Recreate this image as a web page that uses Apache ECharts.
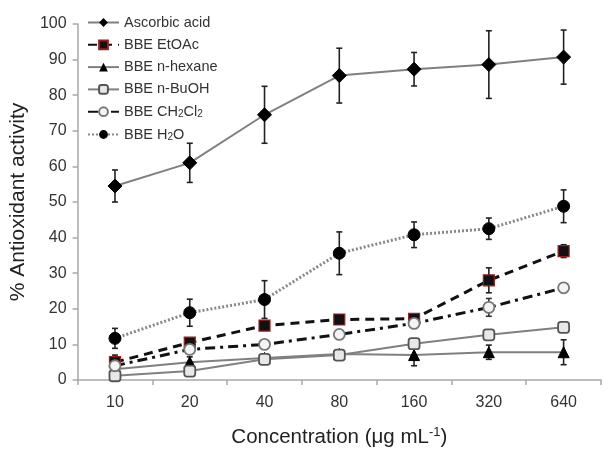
<!DOCTYPE html>
<html><head><meta charset="utf-8">
<script src="https://cdn.jsdelivr.net/npm/echarts@6/dist/echarts.min.js"></script>
<style>html,body{margin:0;padding:0;background:#fff}#c{width:608px;height:453px}</style>
</head><body><div id="c"></div>
<script>
var categories = ['10','20','40','80','160','320','640'];
var ascorbic = [54.5, 61, 74.5, 85.5, 87.3, 88.6, 90.7];
var ascorbicErr = [4.5, 5.5, 8, 7.7, 4.7, 9.5, 7.6];
var etoac = [5, 10.5, 15.3, 17, 17.2, 28, 36.2];
var etoacErr = [2, 1, 1, 1, 1, 3.5, 1.8];
var hexane = [3, 5, 6.2, 7.3, 7, 7.8, 7.8];
var hexaneErr = [1, 1.5, 1, 1, 3, 2, 3.5];
var buoh = [1.2, 2.5, 5.8, 7, 10.2, 12.7, 14.8];
var buohErr = [0.5, 0.8, 0.8, 0.8, 1, 1, 1];
var ch2cl2 = [4, 8.6, 10, 12.8, 15.9, 20.4, 25.9];
var ch2cl2Err = [1, 1, 1, 1, 1, 2.5, 1.3];
var h2o = [11.7, 18.9, 22.6, 35.6, 40.8, 42.5, 48.8];
var h2oErr = [2.8, 3.8, 5.3, 6, 3.6, 3, 4.6];
var yTicks = [0,10,20,30,40,50,60,70,80,90,100];

function errData(vals, errs){
  return vals.map(function(v,i){ return [i, v-errs[i], v+errs[i]]; });
}
function errSeries(vals, errs, color){
  return {
    type:'custom', silent:true, z:1,
    data: errData(vals, errs),
    renderItem: function(params, api){
      var lo = api.coord([api.value(0), api.value(1)]);
      var hi = api.coord([api.value(0), api.value(2)]);
      var w = 3;
      var st = {stroke: color, lineWidth: 1.6};
      return {type:'group', children:[
        {type:'line', shape:{x1:lo[0],y1:lo[1],x2:hi[0],y2:hi[1]}, style:st},
        {type:'line', shape:{x1:lo[0]-w,y1:lo[1],x2:lo[0]+w,y2:lo[1]}, style:st},
        {type:'line', shape:{x1:hi[0]-w,y1:hi[1],x2:hi[0]+w,y2:hi[1]}, style:st}
      ]};
    }
  };
}

var chart = echarts.init(document.getElementById('c'));
var font = 'Liberation Sans, Arial, sans-serif';
chart.setOption({
  animation:false,
  textStyle:{fontFamily:font},
  grid:{left:76, right:7, top:24, bottom:70},
  legend:{
    orient:'vertical', left:82, top:10, itemWidth:31, itemHeight:11, itemGap:7.3,
    textStyle:{fontSize:14.5, color:'#333', fontFamily:font,
      rich:{sub:{fontSize:10, verticalAlign:'bottom', padding:[6,0,0,0], color:'#333'}}},
    formatter:function(n){
      if(n==='BBE CH2Cl2') return 'BBE CH{sub|2}Cl{sub|2}';
      if(n==='BBE H2O') return 'BBE H{sub|2}O';
      return n;
    },
    data:['Ascorbic acid','BBE EtOAc','BBE n-hexane','BBE n-BuOH','BBE CH2Cl2','BBE H2O']
  },
  xAxis:{
    type:'category', data:categories, boundaryGap:true,
    axisLine:{lineStyle:{color:'#a8a8a8', width:1.5}},
    axisTick:{show:true, length:5, lineStyle:{color:'#a8a8a8', width:1.5}},
    axisLabel:{fontSize:16, color:'#333', margin:15, fontFamily:font},
    name:'Concentration (\u03bcg mL{sup|-1})', nameLocation:'middle', nameGap:46,
    nameTextStyle:{fontSize:20.5, color:'#222', fontFamily:font,
      rich:{sup:{fontSize:13, verticalAlign:'top', padding:[0,0,10,0], color:'#222'}}}
  },
  yAxis:{
    type:'value', min:0, max:100, interval:10,
    axisLine:{show:true, lineStyle:{color:'#a8a8a8', width:1.5}},
    axisTick:{show:true, length:5, lineStyle:{color:'#a8a8a8', width:1.5}},
    splitLine:{show:false},
    axisLabel:{fontSize:16, color:'#333', margin:11, fontFamily:font},
    name:'% Antioxidant activity', nameLocation:'middle', nameGap:47,
    nameTextStyle:{fontSize:21, color:'#222', fontFamily:font}
  },
  series:[
    errSeries(ascorbic, ascorbicErr, '#222'),
    errSeries(etoac, etoacErr, '#222'),
    errSeries(hexane, hexaneErr, '#222'),
    errSeries(buoh, buohErr, '#333'),
    errSeries(ch2cl2, ch2cl2Err, '#333'),
    errSeries(h2o, h2oErr, '#222'),
    {name:'Ascorbic acid', type:'line', data:ascorbic, z:3,
      symbol:'diamond', symbolSize:14,
      lineStyle:{color:'#808080', width:2},
      itemStyle:{color:'#000', borderColor:'#000'}},
    {name:'BBE EtOAc', type:'line', data:etoac, z:3,
      symbol:'rect', symbolSize:11,
      lineStyle:{color:'#111', width:3, type:[9,6]},
      itemStyle:{color:'#111', borderColor:'#9a2020', borderWidth:1.2}},
    {name:'BBE n-hexane', type:'line', data:hexane, z:3,
      symbol:'triangle', symbolSize:11,
      lineStyle:{color:'#808080', width:2},
      itemStyle:{color:'#000', borderColor:'#000'}},
    {name:'BBE n-BuOH', type:'line', data:buoh, z:3,
      symbol:'roundRect', symbolSize:11,
      lineStyle:{color:'#808080', width:2},
      itemStyle:{color:'#e8e8e8', borderColor:'#555', borderWidth:1.8}},
    {name:'BBE CH2Cl2', type:'line', data:ch2cl2, z:3,
      symbol:'circle', symbolSize:11,
      lineStyle:{color:'#111', width:3, type:[10,5,3,5]},
      itemStyle:{color:'#f4f4f4', borderColor:'#777', borderWidth:1.8}},
    {name:'BBE H2O', type:'line', data:h2o, z:3,
      symbol:'circle', symbolSize:12,
      lineStyle:{color:'#888', width:3, type:[2,2]},
      itemStyle:{color:'#000', borderColor:'#000'}}
  ]
});
</script></body></html>
